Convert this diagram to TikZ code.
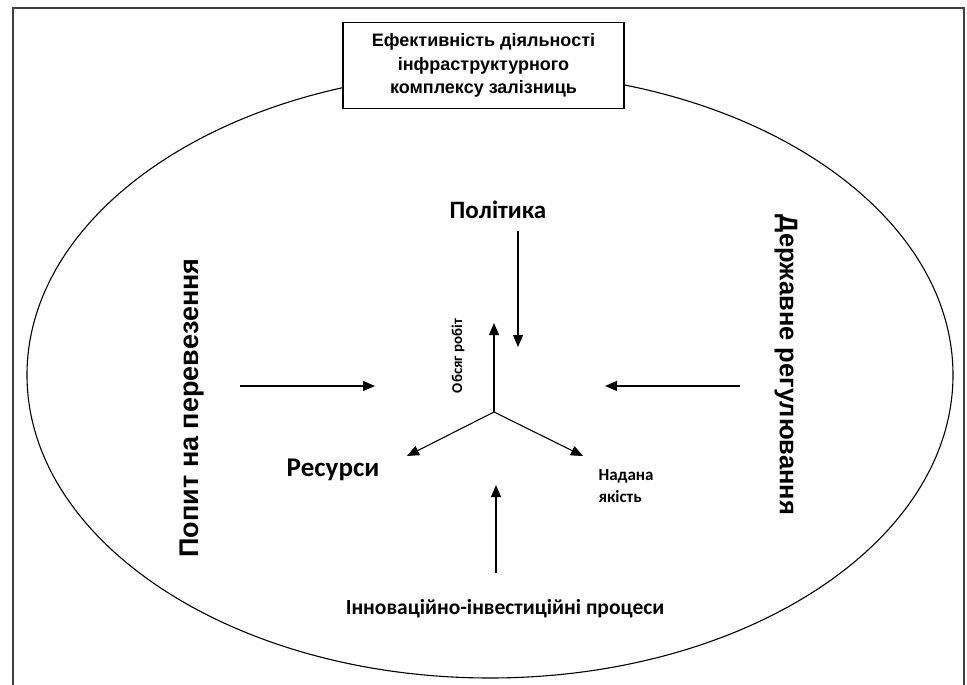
\documentclass[tikz,border=0pt]{standalone}
\usepackage{fontspec}
\setmainfont{Carlito}
\newfontfamily\arialfont{Liberation Sans}
\usetikzlibrary{arrows.meta}
\begin{document}
\begin{tikzpicture}[x=1pt,y=-1pt,
  conn/.style={line width=1.1pt,-{Triangle[length=12pt,width=10pt]}}]
\useasboundingbox (0,0) rectangle (967,685);
\fill[white] (0,0) rectangle (967,685);
% frame
\draw[line width=1.3pt, black!75] (13,685) -- (13,8) -- (964,8) -- (964,685);
% ellipse
\draw[line width=1.1pt] (490,375) ellipse [x radius=463, y radius=303];
% title box
\node[draw, line width=1.1pt, fill=white, minimum width=281pt, minimum height=86pt, inner sep=0pt,
  align=center, font=\arialfont\bfseries\fontsize{18}{23.5}\selectfont] (title) at (483.5,65.5)
  {Ефективність діяльності\\інфраструктурного\\комплексу залізниць};
% labels
\node[font=\bfseries\fontsize{25}{30}\selectfont] (pol) at (498,210) {Політика};
\node[font=\arialfont\bfseries\fontsize{27}{30}\selectfont, rotate=90] (demand) at (192,408) {Попит на перевезення};
\node[font=\arialfont\bfseries\fontsize{25.5}{30}\selectfont, rotate=-90] (reg) at (786,365) {Державне регулювання};
\node[font=\bfseries\fontsize{27}{30}\selectfont] (res) at (333,470) {Ресурси};
\node[font=\bfseries\fontsize{17}{22}\selectfont, align=left, anchor=west] (quality) at (595,486) {Надана\\якість};
\node[font=\bfseries\fontsize{15}{18}\selectfont, rotate=90] (volume) at (458,356) {Обсяг робіт};
\node[font=\bfseries\fontsize{21.5}{24}\selectfont] (innov) at (505,609) {Інноваційно-інвестиційні процеси};
% coordinates
\coordinate (c) at (494,412);
\coordinate (up) at (494,323);
\coordinate (dl) at (407,456);
\coordinate (dr) at (583,456);
\coordinate (la) at (240,386);
\coordinate (lb) at (375,386);
\coordinate (ra) at (740,386);
\coordinate (rb) at (605,386);
\coordinate (ta) at (518,231);
\coordinate (tb) at (518,347);
\coordinate (ba) at (496,573);
\coordinate (bb) at (496,485);
% arrows
\draw[conn] (c) -- (up);
\draw[conn] (c) -- (dl);
\draw[conn] (c) -- (dr);
\draw[conn] (la) -- (lb);
\draw[conn] (ra) -- (rb);
\draw[conn] (ta) -- (tb);
\draw[conn] (ba) -- (bb);
\end{tikzpicture}
\end{document}
